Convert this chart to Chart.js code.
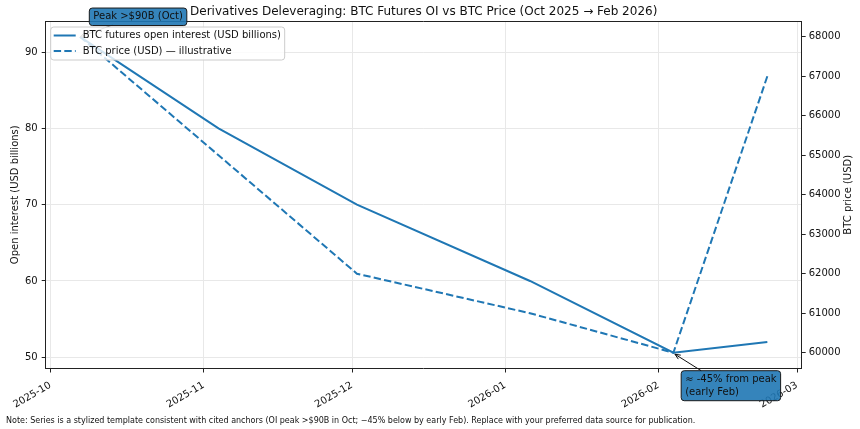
<!DOCTYPE html>
<html>
<head>
<meta charset="utf-8">
<script src="https://cdn.jsdelivr.net/npm/chart.js@4.4.1/dist/chart.umd.min.js"></script>
<style>
  html, body { margin: 0; padding: 0; background: #fff; }
  canvas { display: block; }
</style>
</head>
<body>
<canvas id="chart" width="860" height="429"></canvas>
<script>
// data
const dates = ["2025-10-07", "2025-11-04", "2025-12-02", "2026-01-06", "2026-02-04", "2026-02-23"];
const openInterest = [92, 80, 70, 60, 50.6, 52]; // USD billions
const btcPrice = [68000, 65000, 62000, 61000, 60000, 67000]; // USD, illustrative
const monthTicks = ["2025-10", "2025-11", "2025-12", "2026-01", "2026-02", "2026-03"];
const oiTicks = [50, 60, 70, 80, 90];
const priceTicks = [60000, 61000, 62000, 63000, 64000, 65000, 66000, 67000, 68000];

const FONT = "DejaVu Sans";
const BLUE = "#1f77b4";
const INK = "#222";

function toTime(s) {
  const [y, m, d] = s.split("-").map(Number);
  return Date.UTC(y, m - 1, d || 1);
}

// matplotlib style 5% margins
function padRange(vals) {
  const lo = Math.min(...vals), hi = Math.max(...vals);
  const m = (hi - lo) * 0.05;
  return [lo - m, hi + m];
}

const xs = dates.map(toTime);
const xRange = padRange(xs);
const oiRange = padRange(openInterest);
const pxRange = padRange(btcPrice);

function roundRect(ctx, x, y, w, h, r) {
  ctx.beginPath();
  ctx.moveTo(x + r, y);
  ctx.lineTo(x + w - r, y);
  ctx.quadraticCurveTo(x + w, y, x + w, y + r);
  ctx.lineTo(x + w, y + h - r);
  ctx.quadraticCurveTo(x + w, y + h, x + w - r, y + h);
  ctx.lineTo(x + r, y + h);
  ctx.quadraticCurveTo(x, y + h, x, y + h - r);
  ctx.lineTo(x, y + r);
  ctx.quadraticCurveTo(x, y, x + r, y);
  ctx.closePath();
}

function noteBox(ctx, lines, cx, cy) {
  ctx.font = "10px " + FONT;
  const w = Math.max(...lines.map(l => ctx.measureText(l).width)) + 8;
  const h = lines.length * 12.5 + 5;
  const x = cx - w / 2, y = cy - h / 2;
  roundRect(ctx, x, y, w, h, 3);
  ctx.fillStyle = "rgba(31,119,180,0.9)";
  ctx.fill();
  ctx.lineWidth = 1;
  ctx.strokeStyle = "#1a1a1a";
  ctx.stroke();
  ctx.fillStyle = "#111";
  ctx.textAlign = "left";
  ctx.textBaseline = "middle";
  lines.forEach((l, i) => ctx.fillText(l, x + 4, y + 2.5 + 6.25 + i * 12.5));
  return { x, y, w, h };
}

function arrow(ctx, x0, y0, x1, y1, color, head) {
  ctx.save();
  ctx.strokeStyle = color;
  ctx.lineWidth = 1;
  ctx.beginPath();
  ctx.moveTo(x0, y0);
  ctx.lineTo(x1, y1);
  if (head) {
    const a = Math.atan2(y1 - y0, x1 - x0);
    const L = 6;
    ctx.moveTo(x1 - L * Math.cos(a - 0.4), y1 - L * Math.sin(a - 0.4));
    ctx.lineTo(x1, y1);
    ctx.lineTo(x1 - L * Math.cos(a + 0.4), y1 - L * Math.sin(a + 0.4));
  }
  ctx.stroke();
  ctx.restore();
}

const decorations = {
  id: "decorations",
  afterDatasetsDraw(chart) {
    const { ctx, chartArea: ca, scales } = chart;
    const x = scales.x, y = scales.y;
    ctx.save();

    // top spine
    ctx.strokeStyle = INK;
    ctx.lineWidth = 1;
    ctx.beginPath();
    ctx.moveTo(ca.left, ca.top + 0.5);
    ctx.lineTo(ca.right, ca.top + 0.5);
    ctx.stroke();

    // arrow to the peak (goes under the legend)
    const iPeak = openInterest.indexOf(Math.max(...openInterest));
    const px = x.getPixelForValue(xs[iPeak]), py = y.getPixelForValue(openInterest[iPeak]);
    arrow(ctx, px + 33, py - 12, px, py, "#777", true);

    // legend inside the axes
    const lx = ca.left + 5, ly = ca.top + 6;
    roundRect(ctx, lx, ly, 234, 33, 3);
    ctx.fillStyle = "rgba(255,255,255,0.8)";
    ctx.fill();
    ctx.strokeStyle = "#cccccc";
    ctx.stroke();
    ctx.font = "10px " + FONT;
    ctx.textAlign = "left";
    ctx.textBaseline = "middle";
    chart.data.datasets.forEach((ds, i) => {
      const ry = ly + 8.5 + i * 15.5;
      ctx.strokeStyle = ds.borderColor;
      ctx.lineWidth = 2;
      ctx.setLineDash(ds.borderDash || []);
      ctx.beginPath();
      ctx.moveTo(lx + 3, ry);
      ctx.lineTo(lx + 25, ry);
      ctx.stroke();
      ctx.setLineDash([]);
      ctx.fillStyle = "#111";
      ctx.fillText(ds.label, lx + 32, ry);
    });
    ctx.restore();
  },
  afterDraw(chart) {
    const { ctx, chartArea: ca, scales } = chart;
    const x = scales.x, y = scales.y;
    ctx.save();

    // title
    ctx.fillStyle = "#111";
    ctx.font = "12px " + FONT;
    ctx.textAlign = "center";
    ctx.textBaseline = "middle";
    ctx.fillText("Derivatives Deleveraging: BTC Futures OI vs BTC Price (Oct 2025 \u2192 Feb 2026)", (ca.left + ca.right) / 2, 12);

    // right axis title, reading bottom to top like matplotlib
    ctx.save();
    ctx.translate(848, (ca.top + ca.bottom) / 2);
    ctx.rotate(-Math.PI / 2);
    ctx.font = "10px " + FONT;
    ctx.fillText("BTC price (USD)", 0, 0);
    ctx.restore();

    // footnote
    ctx.font = "8px " + FONT;
    ctx.textAlign = "left";
    ctx.fillText("Note: Series is a stylized template consistent with cited anchors (OI peak >$90B in Oct; \u221245% below by early Feb). Replace with your preferred data source for publication.", 6, 421);

    // peak label
    const iPeak = openInterest.indexOf(Math.max(...openInterest));
    const px = x.getPixelForValue(xs[iPeak]), py = y.getPixelForValue(openInterest[iPeak]);
    noteBox(ctx, ["Peak >$90B (Oct)"], px + 58, py - 20);

    // trough label
    const iLow = openInterest.indexOf(Math.min(...openInterest));
    const tx = x.getPixelForValue(xs[iLow]), ty = y.getPixelForValue(openInterest[iLow]);
    const b = noteBox(ctx, ["\u2248 -45% from peak", "(early Feb)"], tx + 57.5, ty + 33);
    arrow(ctx, b.x + 20, b.y, tx + 1.5, ty + 1.5, "#111", true);
    ctx.restore();
  }
};

new Chart(document.getElementById("chart"), {
  type: "line",
  data: {
    datasets: [
      {
        label: "BTC futures open interest (USD billions)",
        data: xs.map((t, i) => ({ x: t, y: openInterest[i] })),
        borderColor: BLUE,
        borderWidth: 2,
        pointRadius: 0,
        yAxisID: "y"
      },
      {
        label: "BTC price (USD) \u2014 illustrative",
        data: xs.map((t, i) => ({ x: t, y: btcPrice[i] })),
        borderColor: BLUE,
        borderWidth: 2,
        borderDash: [7.4, 3.2],
        pointRadius: 0,
        yAxisID: "y1"
      }
    ]
  },
  options: {
    responsive: false,
    animation: false,
    events: [],
    layout: { padding: { top: 21, left: 0, right: 0, bottom: 0 } },
    plugins: { legend: { display: false }, title: { display: false }, tooltip: { enabled: false } },
    scales: {
      x: {
        type: "linear",
        min: xRange[0],
        max: xRange[1],
        afterBuildTicks: s => { s.ticks = monthTicks.map(m => ({ value: toTime(m) })); },
        afterFit: s => { s.height = 60.5; },
        ticks: {
          callback: (v, i) => monthTicks[i],
          autoSkip: false,
          minRotation: 30,
          maxRotation: 30,
          padding: 7,
          color: "#111",
          font: { family: FONT, size: 10 }
        },
        grid: { color: "#e8e8e8", tickColor: INK, tickLength: 4 },
        border: { color: INK, width: 1 }
      },
      y: {
        position: "left",
        min: oiRange[0],
        max: oiRange[1],
        afterBuildTicks: s => { s.ticks = oiTicks.map(v => ({ value: v })); },
        afterFit: s => { s.width = 45.7; },
        ticks: { padding: 4, color: "#111", font: { family: FONT, size: 10 } },
        grid: { color: "#e8e8e8", tickColor: INK, tickLength: 4 },
        border: { color: INK, width: 1 },
        title: {
          display: true,
          text: "Open interest (USD billions)",
          color: "#111",
          padding: { top: 9, bottom: 0 },
          font: { family: FONT, size: 10 }
        }
      },
      y1: {
        position: "right",
        min: pxRange[0],
        max: pxRange[1],
        afterBuildTicks: s => { s.ticks = priceTicks.map(v => ({ value: v })); },
        afterFit: s => { s.width = 58.3; },
        ticks: {
          callback: v => String(v),
          padding: 3,
          color: "#111",
          font: { family: FONT, size: 10 }
        },
        grid: { drawOnChartArea: false, tickColor: INK, tickLength: 4 },
        border: { color: INK, width: 1 }
      }
    }
  },
  plugins: [decorations]
});
</script>
</body>
</html>
